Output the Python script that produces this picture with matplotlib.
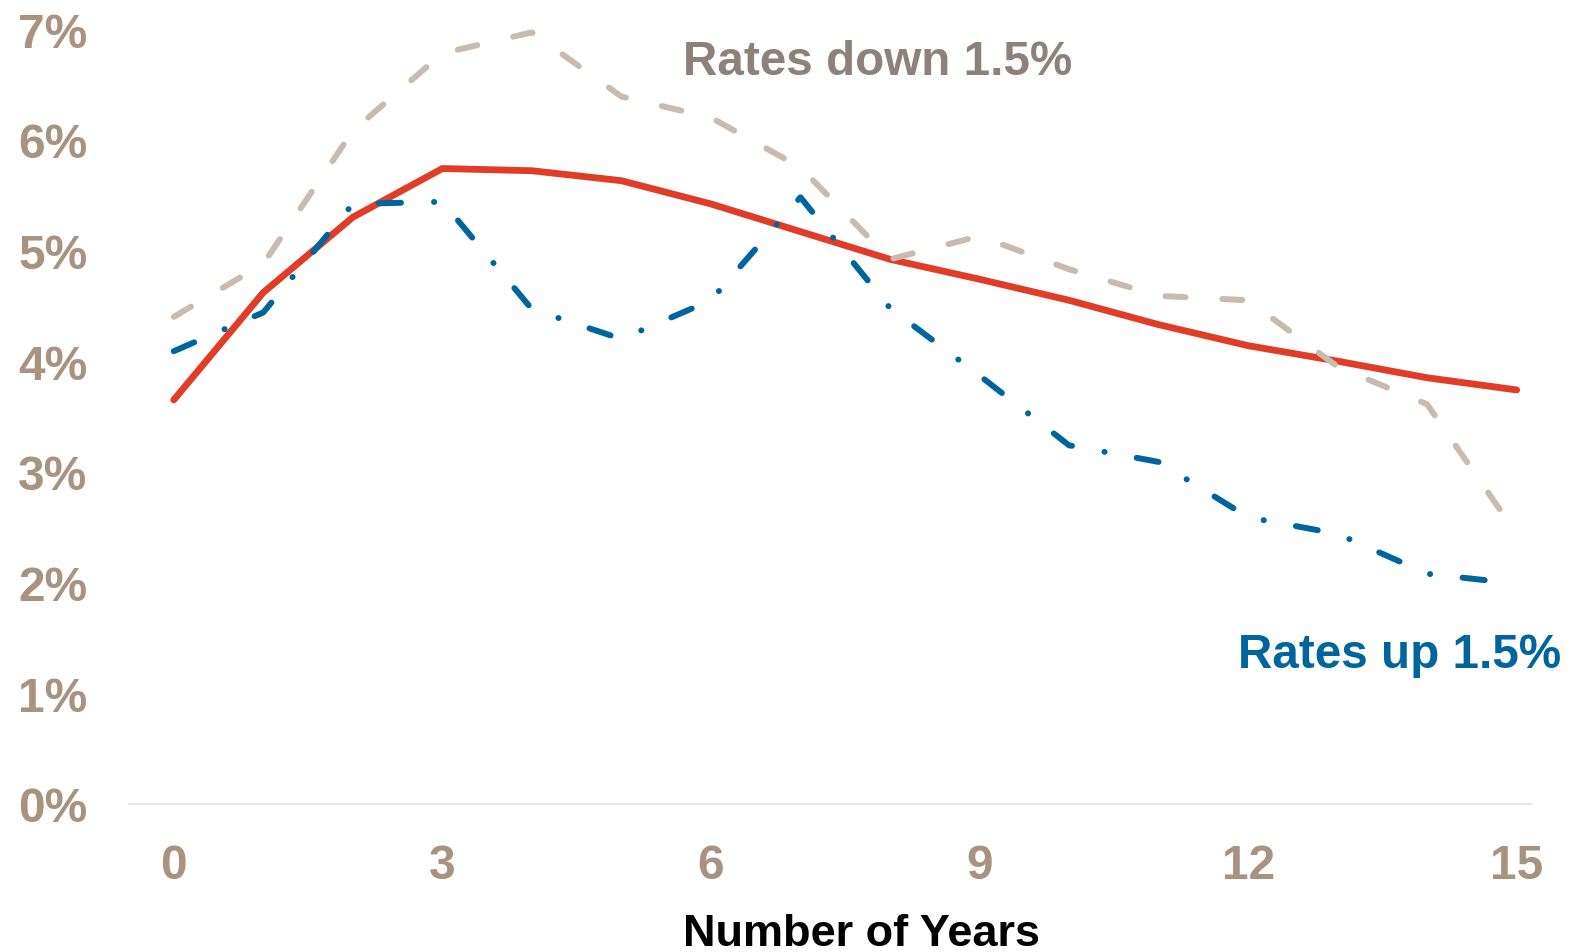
import matplotlib
matplotlib.use("Agg")
import matplotlib.pyplot as plt

plt.rcParams['font.family'] = ['Liberation Sans', 'DejaVu Sans']
plt.rcParams['font.weight'] = 'bold'
plt.rcParams['lines.scale_dashes'] = False

# projected return by year, in percent
years = list(range(16))
base_case = [3.65, 4.62, 5.30, 5.74, 5.72, 5.63, 5.42, 5.17,
             4.92, 4.74, 4.55, 4.33, 4.14, 4.00, 3.85, 3.74]
rates_down = [4.40, 4.88, 6.08, 6.78, 6.97, 6.39, 6.20, 5.75,
              4.92, 5.13, 4.83, 4.59, 4.55, 3.95, 3.61, 2.44]
rates_up = [4.09, 4.44, 5.42, 5.44, 4.47, 4.20, 4.55, 5.48,
            4.48, 3.87, 3.24, 3.09, 2.59, 2.44, 2.08, 1.99]

x_ticks = [0, 3, 6, 9, 12, 15]
y_ticks = [0, 1, 2, 3, 4, 5, 6, 7]
y_labels = [f"{v}%" for v in y_ticks]

RED = '#E03C28'
SAND = '#C9BBAE'
BLUE = '#00659D'
TICK = '#A89380'
DOWN_TXT = '#8C8279'

fig = plt.figure(figsize=(15.79, 9.53), dpi=100)
ax = fig.add_axes([0.0817, 0.1553, 0.8879, 0.8132])

ax.plot(years, base_case, color=RED, lw=4.9, solid_capstyle='round',
        solid_joinstyle='round', zorder=2, clip_on=False)
ax.plot(years, rates_down, color=SAND, lw=4.3, dashes=(14.4, 26.6),
        dash_capstyle='round', dash_joinstyle='round', zorder=3, clip_on=False)
ax.plot(years, rates_up, color=BLUE, lw=4.3, dashes=(16.0, 23.8, 0.1, 23.5),
        dash_capstyle='round', dash_joinstyle='round', zorder=4, clip_on=False)

ax.text(5.69, 6.59, 'Rates down 1.5%', color=DOWN_TXT, fontsize=34.3,
        fontweight='bold', ha='left', va='baseline')
ax.text(15.50, 1.24, 'Rates up 1.5%', color=BLUE, fontsize=34.3,
        fontweight='bold', ha='right', va='baseline', clip_on=False)

ax.set_xlim(-0.5, 15.16)
ax.set_ylim(0, 7)
ax.set_xticks(x_ticks)
ax.set_xticklabels([str(t) for t in x_ticks])
ax.set_yticks(y_ticks)
ax.set_yticklabels(y_labels)
ax.tick_params(axis='both', length=0, labelsize=34.5, labelcolor=TICK)
ax.tick_params(axis='y', pad=30)
ax.tick_params(axis='x', pad=28)
for lab in ax.get_xticklabels() + ax.get_yticklabels():
    lab.set_fontweight('bold')

for side in ['top', 'right', 'left']:
    ax.spines[side].set_visible(False)
ax.spines['bottom'].set_color('#E6E2DE')
ax.spines['bottom'].set_linewidth(1.3)

fig.text(0.5453, 0.0073, 'Number of Years', color='black', fontsize=32.5,
         fontweight='bold', ha='center', va='baseline')

fig.savefig('out.png', dpi=100, facecolor='white')
